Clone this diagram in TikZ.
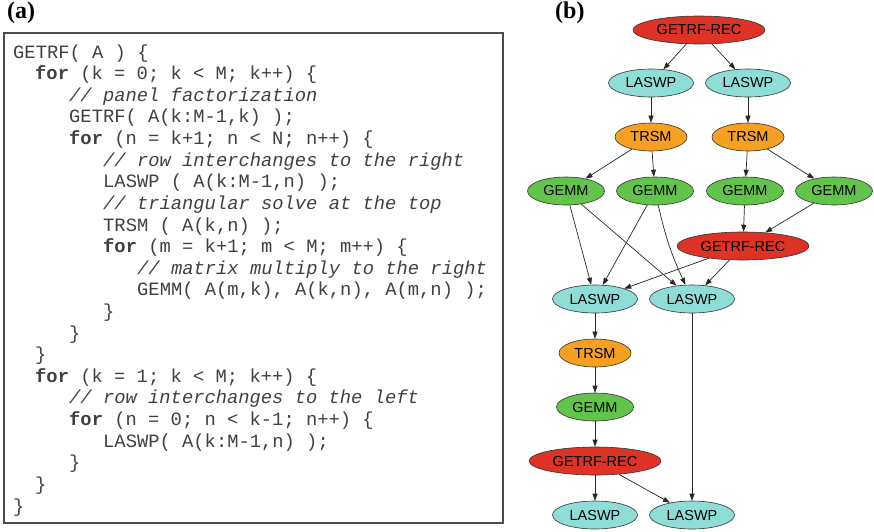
\documentclass[tikz,border=0pt]{standalone}
\usepackage{fontspec}
\usetikzlibrary{shapes.geometric,arrows.meta}
\newfontfamily\codefont{Liberation Mono}
\newfontfamily\graphfont{Liberation Sans}
\newfontfamily\panelfont{Liberation Serif}
\definecolor{recred}{RGB}{221,50,36}
\definecolor{swpcyan}{RGB}{143,222,214}
\definecolor{trsmorange}{RGB}{245,160,32}
\definecolor{gemmgreen}{RGB}{98,196,74}
\tikzset{
	panel/.style={anchor=base west,inner sep=0pt,font=\panelfont\bfseries\fontsize{24}{28}\selectfont},
	codeline/.style={anchor=base west,inner sep=0pt,text=black!75,font=\codefont\fontsize{18.8}{22}\selectfont},
	task/.style={ellipse,draw=black!80,line width=0.6pt,inner sep=0pt,minimum height=28pt,font=\graphfont\fontsize{14.5}{16}\selectfont},
	getrf/.style={task,fill=recred,minimum width=132pt},
	laswp/.style={task,fill=swpcyan,minimum width=85pt},
	trsm/.style={task,fill=trsmorange,minimum width=72pt},
	gemm/.style={task,fill=gemmgreen,minimum width=77pt},
	dep/.style={-{Triangle[length=7pt,width=5pt]},line width=0.7pt,draw=black!85}
}
\begin{document}
\begin{tikzpicture}[x=1pt,y=-1pt]
	\useasboundingbox (0,0) rectangle (874,531);
	\node[panel] (pa) at (7,18) {(a)};
	\node[panel] (pb) at (555,18) {(b)};
	\draw[black!70,line width=1.2pt] (4,33) rectangle (503,523);
	\node[codeline] (c1) at (13,58) {GETRF( A ) \{};
	\node[codeline] (c2) at (35,79.6) {\textbf{for} (k = 0; k < M; k++) \{};
	\node[codeline] (c3) at (69,101.2) {\itshape // panel factorization};
	\node[codeline] (c4) at (69,122.9) {GETRF( A(k:M-1,k) );};
	\node[codeline] (c5) at (69,144.5) {\textbf{for} (n = k+1; n < N; n++) \{};
	\node[codeline] (c6) at (103,166.1) {\itshape // row interchanges to the right};
	\node[codeline] (c7) at (103,187.7) {LASWP ( A(k:M-1,n) );};
	\node[codeline] (c8) at (103,209.3) {\itshape // triangular solve at the top};
	\node[codeline] (c9) at (103,231) {TRSM ( A(k,n) );};
	\node[codeline] (c10) at (103,252.6) {\textbf{for} (m = k+1; m < M; m++) \{};
	\node[codeline] (c11) at (137,274.2) {\itshape // matrix multiply to the right};
	\node[codeline] (c12) at (137,295.8) {GEMM( A(m,k), A(k,n), A(m,n) );};
	\node[codeline] (c13) at (103,317.4) {\}};
	\node[codeline] (c14) at (69,339.1) {\}};
	\node[codeline] (c15) at (35,360.7) {\}};
	\node[codeline] (c16) at (35,382.3) {\textbf{for} (k = 1; k < M; k++) \{};
	\node[codeline] (c17) at (69,403.9) {\itshape // row interchanges to the left};
	\node[codeline] (c18) at (69,425.5) {\textbf{for} (n = 0; n < k-1; n++) \{};
	\node[codeline] (c19) at (103,447.2) {LASWP( A(k:M-1,n) );};
	\node[codeline] (c20) at (69,468.8) {\}};
	\node[codeline] (c21) at (35,490.4) {\}};
	\node[codeline] (c22) at (13,512) {\}};
	\node[getrf] (rec1) at (699,30) {GETRF-REC};
	\node[laswp] (swp1a) at (651,83) {LASWP};
	\node[laswp] (swp1b) at (748,83) {LASWP};
	\node[trsm] (trsm1a) at (651,137) {TRSM};
	\node[trsm] (trsm1b) at (748,137) {TRSM};
	\node[gemm] (gemm1a) at (566,191) {GEMM};
	\node[gemm] (gemm1b) at (655,191) {GEMM};
	\node[gemm] (gemm1c) at (745,191) {GEMM};
	\node[gemm] (gemm1d) at (834,191) {GEMM};
	\node[getrf] (rec2) at (743,246) {GETRF-REC};
	\node[laswp] (swp2a) at (595,299) {LASWP};
	\node[laswp] (swp2b) at (692,299) {LASWP};
	\node[trsm] (trsm2) at (595,353) {TRSM};
	\node[gemm] (gemm2) at (595,407) {GEMM};
	\node[getrf] (rec3) at (595,461) {GETRF-REC};
	\node[laswp] (swp3a) at (595,515) {LASWP};
	\node[laswp] (swp3b) at (692,515) {LASWP};
	\draw[dep] (rec1) -- (swp1a);
	\draw[dep] (rec1) -- (swp1b);
	\draw[dep] (swp1a) -- (trsm1a);
	\draw[dep] (swp1b) -- (trsm1b);
	\draw[dep] (trsm1a) -- (gemm1a);
	\draw[dep] (trsm1a) -- (gemm1b);
	\draw[dep] (trsm1b) -- (gemm1c);
	\draw[dep] (trsm1b) -- (gemm1d);
	\draw[dep] (gemm1c) -- (rec2);
	\draw[dep] (gemm1d) -- (rec2);
	\draw[dep] (gemm1a) -- (swp2a);
	\draw[dep] (gemm1a) -- (swp2b);
	\draw[dep] (gemm1b) -- (swp2a);
	\draw[dep] (gemm1b) to[bend right=6] (swp2b);
	\draw[dep] (rec2) -- (swp2a);
	\draw[dep] (rec2) -- (swp2b);
	\draw[dep] (swp2a) -- (trsm2);
	\draw[dep] (trsm2) -- (gemm2);
	\draw[dep] (gemm2) -- (rec3);
	\draw[dep] (rec3) -- (swp3a);
	\draw[dep] (rec3) -- (swp3b);
	\draw[dep] (swp2b) -- (swp3b);
\end{tikzpicture}
\end{document}
